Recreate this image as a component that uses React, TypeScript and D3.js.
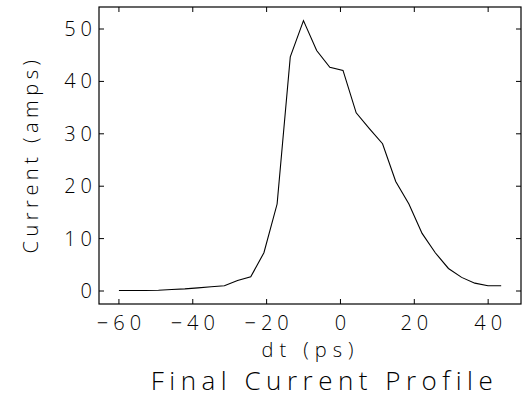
import React from "react";
import * as d3 from "d3";

const dtValues = [-60, -56.43, -52.86, -49.29, -45.72, -42.15, -38.58, -35.01, -31.44, -27.87, -24.3, -20.73, -17.16, -13.59, -10.02, -6.45, -2.88, 0.69, 4.26, 7.83, 11.4, 14.97, 18.54, 22.11, 25.68, 29.25, 32.82, 36.39, 39.96, 43.53];
const currentValues = [0.1, 0.1, 0.1, 0.15, 0.3, 0.4, 0.6, 0.8, 1.0, 2.0, 2.7, 7.3, 16.6, 44.7, 51.6, 45.9, 42.7, 42.1, 34.0, 31.0, 28.1, 20.9, 16.6, 11.0, 7.3, 4.3, 2.6, 1.5, 1.0, 1.0];
const xTicks = [-60, -40, -20, 0, 20, 40];
const yTicks = [0, 10, 20, 30, 40, 50];
const xTitle = "dt (ps)";
const yTitle = "Current (amps)";
const chartTitle = "Final Current Profile";

const W = 526, H = 398;
const left = 99, right = 521, top = 7, bottom = 304;

export default function App() {
  const x = d3.scaleLinear().domain([-65.4, 48.9]).range([left, right]);
  const y = d3.scaleLinear().domain([-2.48, 54.2]).range([bottom, top]);
  const pts = dtValues.map((d, i) => [d, currentValues[i]] as [number, number]);
  const line = d3.line<[number, number]>().x(d => x(d[0])).y(d => y(d[1]));
  const font = "'Open Sans', 'DejaVu Sans', sans-serif";
  const tl = 5;
  const fs = 20, ls = 5;
  const fmt = (v: number) => (v < 0 ? "\u2212" + Math.abs(v) : String(v));
  return (
    <svg width={W} height={H} style={{ position: "absolute", left: 0, top: 0, background: "#fff" }}>
      <rect x={left} y={top} width={right - left} height={bottom - top} fill="none" stroke="#000" strokeWidth={1.2} />
      {xTicks.map(t => (
        <g key={"x" + t}>
          <line x1={x(t)} x2={x(t)} y1={bottom} y2={bottom - tl} stroke="#000" />
          <line x1={x(t)} x2={x(t)} y1={top} y2={top + tl} stroke="#000" />
          <text x={x(t) + ls / 2} y={330} textAnchor="middle" fontFamily={font} fontWeight={300} fontSize={fs} letterSpacing={ls}>{fmt(t)}</text>
        </g>
      ))}
      {yTicks.map(t => (
        <g key={"y" + t}>
          <line x1={left} x2={left + tl} y1={y(t)} y2={y(t)} stroke="#000" />
          <line x1={right} x2={right - tl} y1={y(t)} y2={y(t)} stroke="#000" />
          <text x={92 + ls} y={y(t) + 7} textAnchor="end" fontFamily={font} fontWeight={300} fontSize={fs} letterSpacing={ls}>{fmt(t)}</text>
        </g>
      ))}
      <path d={line(pts) || ""} fill="none" stroke="#000" strokeWidth={1.1} />
      <text x={308 + ls / 2} y={357} textAnchor="middle" fontFamily={font} fontWeight={300} fontSize={fs} letterSpacing={ls + 1}>{xTitle}</text>
      <text transform={`translate(38,${157 - ls / 2}) rotate(-90)`} textAnchor="middle" fontFamily={font} fontWeight={300} fontSize={fs} letterSpacing={4.5}>{yTitle}</text>
      <text x={322 + 2.5} y={390} textAnchor="middle" fontFamily={font} fontWeight={300} fontSize={26} letterSpacing={5.5}>{chartTitle}</text>
    </svg>
  );
}
